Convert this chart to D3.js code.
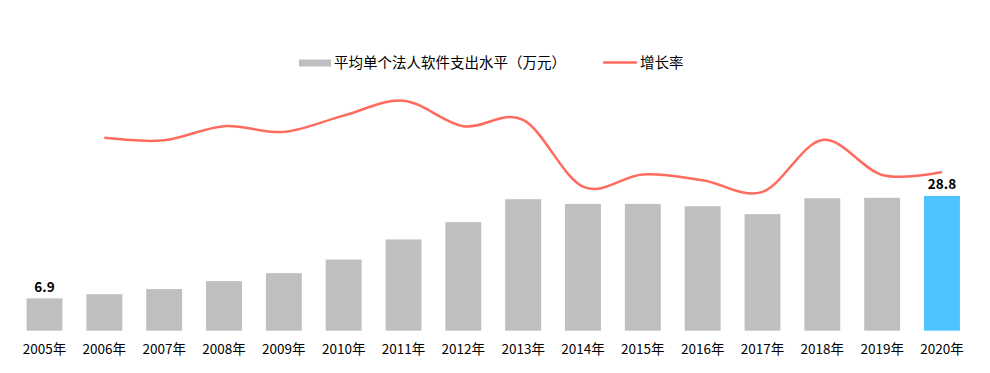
<!DOCTYPE html>
<html>
<head>
<meta charset="utf-8">
<script src="https://cdn.jsdelivr.net/npm/d3@7"></script>
<style>
  body { margin: 0; background: #fff; }
  text { font-family: "Noto Sans CJK SC", "Noto Sans", sans-serif; }
</style>
</head>
<body>
<div id="chart"></div>
<script>
// chart data
const years = ["2005年", "2006年", "2007年", "2008年", "2009年", "2010年", "2011年", "2012年",
               "2013年", "2014年", "2015年", "2016年", "2017年", "2018年", "2019年", "2020年"];
const spending = [6.9, 7.8, 8.9, 10.6, 12.3, 15.2, 19.5, 23.2, 28.1, 27.1, 27.1, 26.6, 24.9, 28.3, 28.4, 28.8];
// growth rate (%), starts in 2006
const growth = [null, 14.3, 13.4, 18.6, 16.5, 22.5, 28.0, 18.6, 20.9, -3.7, 0.8, -1.3, -5.6, 13.5, 0.6, 1.7];
const barLabel = "平均单个法人软件支出水平（万元）";
const lineLabel = "增长率";

const width = 990, height = 373;

const svg = d3.select("#chart")
    .append("svg")
    .attr("width", width)
    .attr("height", height);

// scales
const x = d3.scaleBand()
    .domain(years)
    .range([14.6, 971.9])
    .paddingInner(0.4)
    .paddingOuter(0.2);

const y = d3.scaleLinear()
    .domain([0, 30])
    .range([330.7, 190.3]);

// hidden secondary axis for the growth line
const y2 = d3.scaleLinear()
    .domain([-30, 35])
    .range([258, 81.7]);

// bars
svg.append("g")
    .selectAll("rect")
    .data(spending)
    .join("rect")
    .attr("x", (d, i) => x(years[i]))
    .attr("y", d => y(d))
    .attr("width", x.bandwidth())
    .attr("height", d => y(0) - y(d))
    .attr("fill", (d, i) => i === years.length - 1 ? "#4DC3FF" : "#BFBFBF");

// value labels on first and last bar
const labelled = [0, years.length - 1];
svg.append("g")
    .selectAll("text")
    .data(labelled)
    .join("text")
    .attr("x", i => x(years[i]) + x.bandwidth() / 2)
    .attr("y", i => y(spending[i]) - 6.5)
    .attr("text-anchor", "middle")
    .attr("font-size", "13.5px")
    .attr("font-weight", "bold")
    .attr("fill", "#000")
    .text(i => spending[i].toFixed(1));

// x axis labels
const xAxis = svg.append("g")
    .attr("transform", `translate(0, ${y(0)})`)
    .call(d3.axisBottom(x).tickSize(0).tickPadding(14));
xAxis.select(".domain").remove();
xAxis.selectAll("text")
    .attr("font-size", "13.5px")
    .attr("fill", "#000")
    .style("font-family", "\"Noto Sans CJK SC\", sans-serif");

// growth line
const lineData = years.map((yr, i) => ({year: yr, value: growth[i]}));
svg.append("path")
    .datum(lineData)
    .attr("fill", "none")
    .attr("stroke", "#FF6B5E")
    .attr("stroke-width", 2.5)
    .attr("d", d3.line()
        .defined(d => d.value !== null)
        .x(d => x(d.year) + x.bandwidth() / 2)
        .y(d => y2(d.value))
        .curve(d3.curveCardinal.tension(0)));

// legend
const legend = svg.append("g");
legend.append("rect")
    .attr("x", 299)
    .attr("y", 59.5)
    .attr("width", 32)
    .attr("height", 7)
    .attr("fill", "#BFBFBF");
legend.append("text")
    .attr("x", 334)
    .attr("y", 68)
    .attr("font-size", "14.5px")
    .attr("fill", "#000")
    .text(barLabel);
legend.append("line")
    .attr("x1", 603)
    .attr("x2", 637)
    .attr("y1", 62.5)
    .attr("y2", 62.5)
    .attr("stroke", "#FF6B5E")
    .attr("stroke-width", 2.5);
legend.append("text")
    .attr("x", 640)
    .attr("y", 68)
    .attr("font-size", "14.5px")
    .attr("fill", "#000")
    .text(lineLabel);
</script>
</body>
</html>
